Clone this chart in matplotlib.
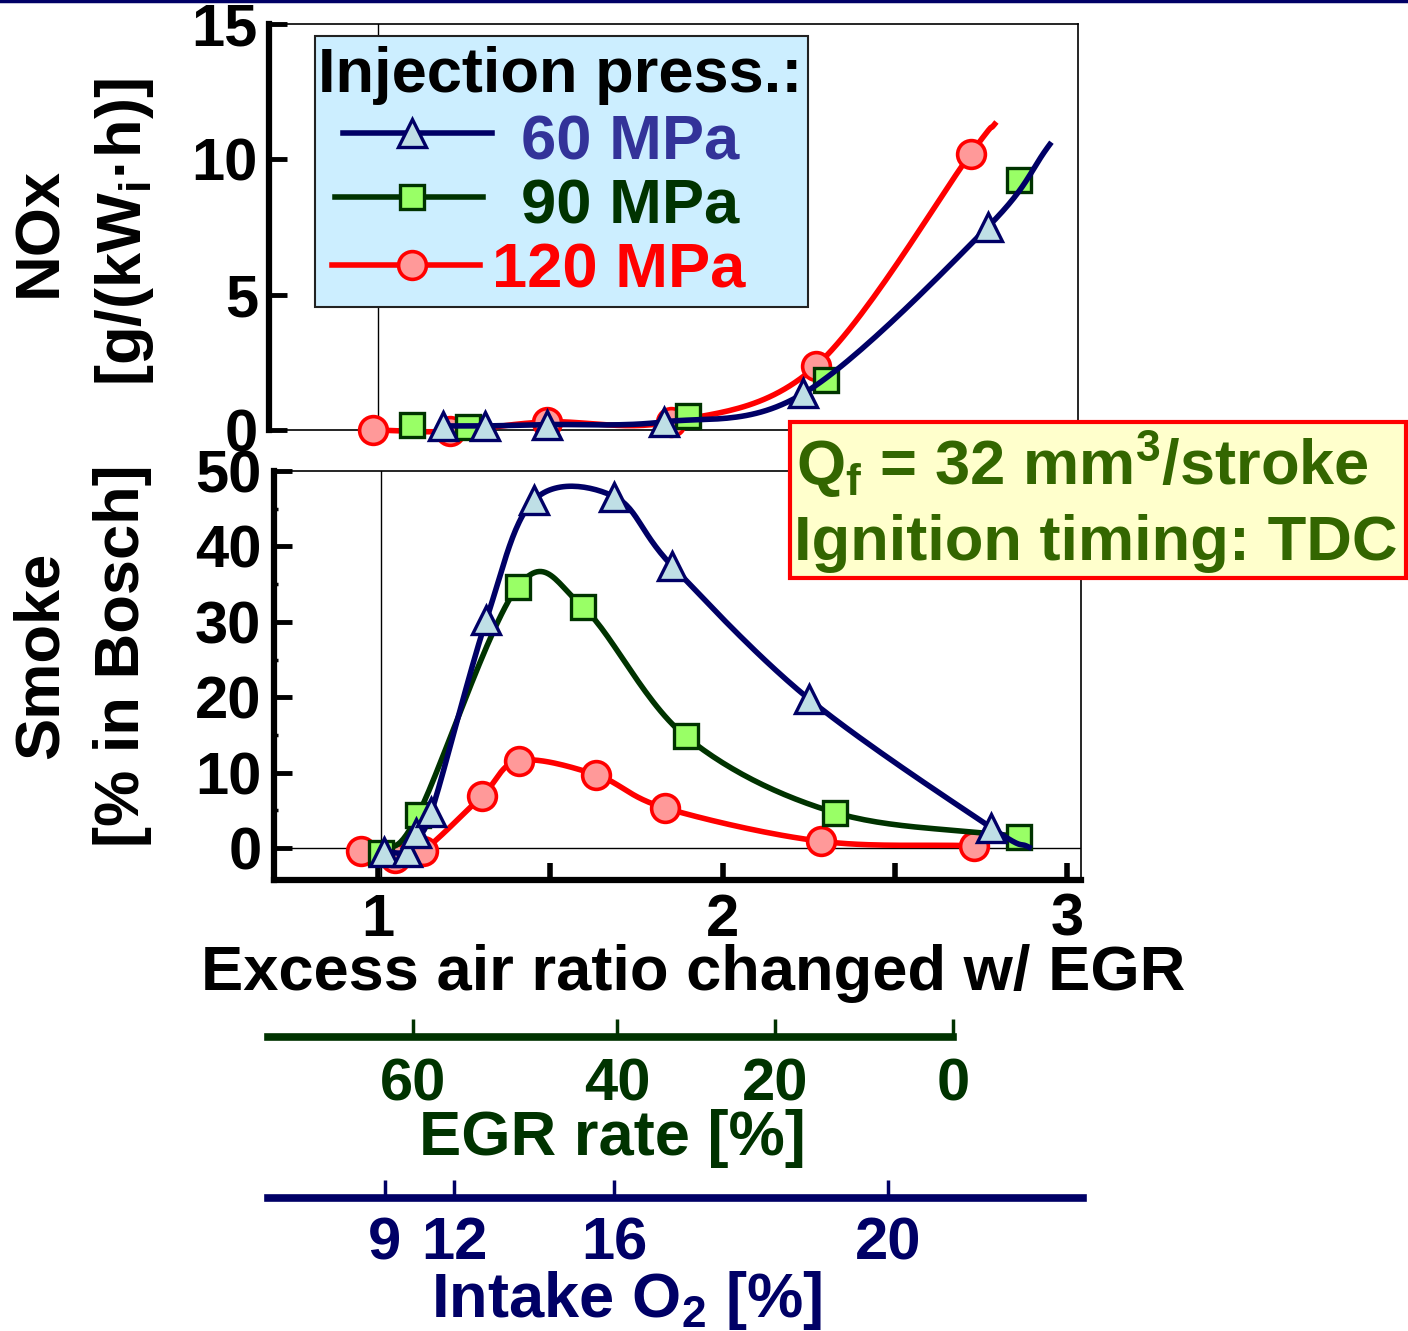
import numpy as np
import matplotlib
matplotlib.use('Agg')
import matplotlib.pyplot as plt
from matplotlib.patches import Rectangle

plt.rcParams['font.family'] = ['Liberation Sans', 'DejaVu Sans']
plt.rcParams['font.weight'] = 'bold'
plt.rcParams['mathtext.fontset'] = 'custom'
plt.rcParams['mathtext.rm'] = 'Liberation Sans:bold'
plt.rcParams['mathtext.bf'] = 'Liberation Sans:bold'

# --- data ----------------------------------------------------------------
# NOx panel (x = excess air ratio)
nox_lam_60 = [1.19, 1.31, 1.49, 1.83, 2.235, 2.77]
nox_60 = [0.15, 0.15, 0.2, 0.3, 1.35, 7.5]
nox_tail_60 = (2.95, 10.55)
nox_lam_90 = [1.10, 1.26, 1.90, 2.30, 2.86]
nox_90 = [0.2, 0.1, 0.5, 1.85, 9.25]
nox_lam_120 = [0.986, 1.21, 1.49, 1.85, 2.27, 2.72]
nox_120 = [0.0, -0.05, 0.3, 0.3, 2.35, 10.2]
nox_tail_120 = (2.79, 11.3)

# Smoke panel
smk_lam_60 = [1.017, 1.083, 1.11, 1.155, 1.314, 1.454, 1.686, 1.854, 2.25, 2.78]
smk_60 = [-0.5, -0.5, 2.0, 4.8, 30.2, 46.2, 46.6, 37.4, 19.8, 2.7]
smk_tail_60 = (2.89, 0.1)
smk_lam_90 = [1.01, 1.116, 1.405, 1.596, 1.893, 2.326, 2.86]
smk_90 = [-0.6, 4.4, 34.6, 31.9, 14.8, 4.7, 1.5]
smk_lam_120 = [0.95, 1.048, 1.13, 1.302, 1.41, 1.634, 1.834, 2.285, 2.73]
smk_120 = [-0.4, -1.3, -0.4, 6.9, 11.6, 9.7, 5.3, 0.9, 0.3]

# secondary scales (value -> excess air ratio position)
egr_ticks = [60, 40, 20, 0]
egr_lam = [1.102, 1.694, 2.152, 2.669]
o2_ticks = [9, 12, 16, 20]
o2_lam = [1.020, 1.221, 1.685, 2.480]

NAVY = '#000066'
DKGREEN = '#003300'
RED = '#ff0000'
TRI_FACE = '#bfdfe6'
SQ_FACE = '#99ff66'
CIR_FACE = '#ff9999'
LBL = 45.5
TCK = 43
LW = 4.0

W, H = 1408, 1331
PX_X, X1_PX = 344.5, 378


def place(l, t, r, b, **kw):
    return fig.add_axes([l / W, 1 - b / H, (r - l) / W, (b - t) / H], **kw)


def xlim_px(l, r):
    return 1 + (l - X1_PX) / PX_X, 1 + (r - X1_PX) / PX_X


def smooth(x, y, sx, sy, n=30):
    # Catmull-Rom through the points, done in screen-like units
    p = np.column_stack([np.asarray(x) * sx, np.asarray(y) * sy])
    p = np.vstack([2 * p[0] - p[1], p, 2 * p[-1] - p[-2]])
    t = np.linspace(0, 1, n)[:, None]
    out = []
    for i in range(1, len(p) - 2):
        p0, p1, p2, p3 = p[i - 1], p[i], p[i + 1], p[i + 2]
        out.append(0.5 * (2 * p1 + (-p0 + p2) * t
                          + (2 * p0 - 5 * p1 + 4 * p2 - p3) * t ** 2
                          + (-p0 + 3 * p1 - 3 * p2 + p3) * t ** 3))
    c = np.vstack(out)
    return c[:, 0] / sx, c[:, 1] / sy


fig = plt.figure(figsize=(W / 100, H / 100), dpi=100)

tri = dict(marker='^', ms=20, mfc=TRI_FACE, mec=NAVY, mew=2.4, ls='none', clip_on=False)
sq = dict(marker='s', ms=17, mfc=SQ_FACE, mec=DKGREEN, mew=2.4, ls='none', clip_on=False)
cir = dict(marker='o', ms=20, mfc=CIR_FACE, mec=RED, mew=2.6, ls='none', clip_on=False)

# ---- NOx panel -------------------------------------------------------------
ax1 = place(269, 24, 1078, 430)
ax1.set_xlim(*xlim_px(269, 1078))
ax1.set_ylim(0, 15)
sy1 = 406 / 15
xs, ys = smooth(nox_lam_120 + [nox_tail_120[0]], nox_120 + [nox_tail_120[1]], PX_X, sy1)
ax1.plot(xs, ys, color=RED, lw=LW, clip_on=False, zorder=3)
ax1.plot(nox_lam_120, nox_120, zorder=4, **cir)
ax1.plot(nox_lam_90, nox_90, zorder=5, **sq)
xs, ys = smooth(nox_lam_60 + [nox_tail_60[0]], nox_60 + [nox_tail_60[1]], PX_X, sy1)
ax1.plot(xs, ys, color=NAVY, lw=LW, clip_on=False, zorder=6)
ax1.plot(nox_lam_60, nox_60, zorder=7, **tri)
ax1.axvline(1, color='black', lw=1, zorder=1)
ax1.set_xticks([])
ax1.set_yticks([0, 5, 10, 15])
ax1.tick_params(axis='y', direction='in', length=13, width=3.5, pad=8, labelsize=TCK)
ax1.spines['left'].set_linewidth(4.5)
for s in ('top', 'right', 'bottom'):
    ax1.spines[s].set_linewidth(1.2)

# ---- Smoke panel -----------------------------------------------------------
ax2 = place(274, 471, 1081, 880)
ax2.set_xlim(*xlim_px(274, 1081))
sy2 = (848 - 471) / 50
ax2.set_ylim(-(880 - 848) / sy2, 50)
xs, ys = smooth(smk_lam_120, smk_120, PX_X, sy2)
ax2.plot(xs, ys, color=RED, lw=LW, zorder=3)
ax2.plot(smk_lam_120, smk_120, zorder=4, **cir)
xs, ys = smooth(smk_lam_90, smk_90, PX_X, sy2)
ax2.plot(xs, ys, color=DKGREEN, lw=LW, zorder=5)
ax2.plot(smk_lam_90, smk_90, zorder=6, **sq)
xs, ys = smooth(smk_lam_60 + [smk_tail_60[0]], smk_60 + [smk_tail_60[1]], PX_X, sy2)
ax2.plot(xs, ys, color=NAVY, lw=LW, zorder=7)
ax2.plot(smk_lam_60, smk_60, zorder=8, **tri)
ax2.axvline(1.01, color='black', lw=1, zorder=1)
ax2.axhline(0, color='black', lw=1, zorder=1)
ax2.set_xticks([1, 1.5, 2, 2.5, 3])
ax2.set_xticklabels(['1', '', '2', '', '3'])
ax2.set_yticks(range(0, 51, 10))
ax2.set_yticks([5, 15, 25, 35, 45], minor=True)
ax2.tick_params(axis='x', direction='in', length=12, width=4, pad=9, labelsize=TCK)
ax2.tick_params(axis='y', direction='in', length=13, width=3.5, pad=9, labelsize=TCK)
ax2.tick_params(axis='y', which='minor', direction='in', length=3, width=2.5)
for s in ('left', 'bottom'):
    ax2.spines[s].set_linewidth(4.5)
for s in ('top', 'right'):
    ax2.spines[s].set_linewidth(1.2)

# ---- secondary scales ------------------------------------------------------
def scale_axis(top, bottom, ticks, lams, color, end=None, pad=14):
    a = place(268, top, 1083, bottom)
    a.set_xlim(*xlim_px(268, 1083))
    a.patch.set_alpha(0)
    for s in ('top', 'left', 'right'):
        a.spines[s].set_visible(False)
    a.spines['bottom'].set_linewidth(5.5)
    a.spines['bottom'].set_color(color)
    if end is not None:
        a.spines['bottom'].set_bounds(a.get_xlim()[0], end)
    a.set_yticks([])
    a.set_xticks(lams)
    a.set_xticklabels([str(v) for v in ticks])
    a.tick_params(axis='x', direction='in', length=13, width=2.5, pad=pad,
                  labelsize=TCK, colors=color)
    return a


scale_axis(1000, 1037, egr_ticks, egr_lam, DKGREEN, end=egr_lam[-1], pad=15)
scale_axis(1160, 1198, o2_ticks, o2_lam, NAVY, pad=13)

# ---- overlay: labels, legend, note -----------------------------------------
ov = fig.add_axes([0, 0, 1, 1], zorder=10)
ov.set_xlim(0, W)
ov.set_ylim(H, 0)
ov.axis('off')

ov.plot([0, W], [1, 1], color=NAVY, lw=2.5)

ov.text(40, 232, 'NOx', rotation=90, ha='center', va='center', fontsize=LBL)
ov.text(124, 232, '[g/(kW$_\\mathregular{i}$·h)]', rotation=90, ha='center', va='center', fontsize=LBL)
ov.text(41, 655, 'Smoke', rotation=90, ha='center', va='center', fontsize=LBL)
ov.text(123, 656, '[% in Bosch]', rotation=90, ha='center', va='center', fontsize=LBL)
ov.text(693, 990, 'Excess air ratio changed w/ EGR', ha='center', va='baseline', fontsize=LBL)
ov.text(612, 1155, 'EGR rate [%]', ha='center', va='baseline', fontsize=LBL, color=DKGREEN)
ov.text(626, 1317, 'Intake O$_\\mathregular{2}$ [%]', ha='center', va='baseline', fontsize=LBL, color=NAVY)

# legend
ov.add_patch(Rectangle((315, 36), 493, 271, fc='#cceeff', ec='#222222', lw=1.5))
ov.text(318, 92, 'Injection press.:', ha='left', va='baseline', fontsize=LBL)
ov.plot([343, 492], [133, 133], color=NAVY, lw=LW)
ov.plot([412], [133], **tri)
ov.text(521, 160, '60 MPa', ha='left', va='baseline', fontsize=LBL, color='#333399')
ov.plot([335, 483], [197, 197], color=DKGREEN, lw=LW)
ov.plot([412], [197], **sq)
ov.text(521, 223, '90 MPa', ha='left', va='baseline', fontsize=LBL, color=DKGREEN)
ov.plot([332, 480], [265, 265], color=RED, lw=LW)
ov.plot([412], [265], **cir)
ov.text(492, 287, '120 MPa', ha='left', va='baseline', fontsize=LBL, color=RED)

# conditions note
ov.add_patch(Rectangle((790, 422), 616, 156, fc='#ffffcc', ec=RED, lw=3))
ov.text(796, 485, 'Q$_\\mathregular{f}$ = 32 mm$^\\mathregular{3}$/stroke', ha='left', va='baseline',
        fontsize=LBL, color='#336600')
ov.text(794, 560, 'Ignition timing: TDC', ha='left', va='baseline', fontsize=LBL, color='#336600')

fig.savefig('out.png', dpi=100)
